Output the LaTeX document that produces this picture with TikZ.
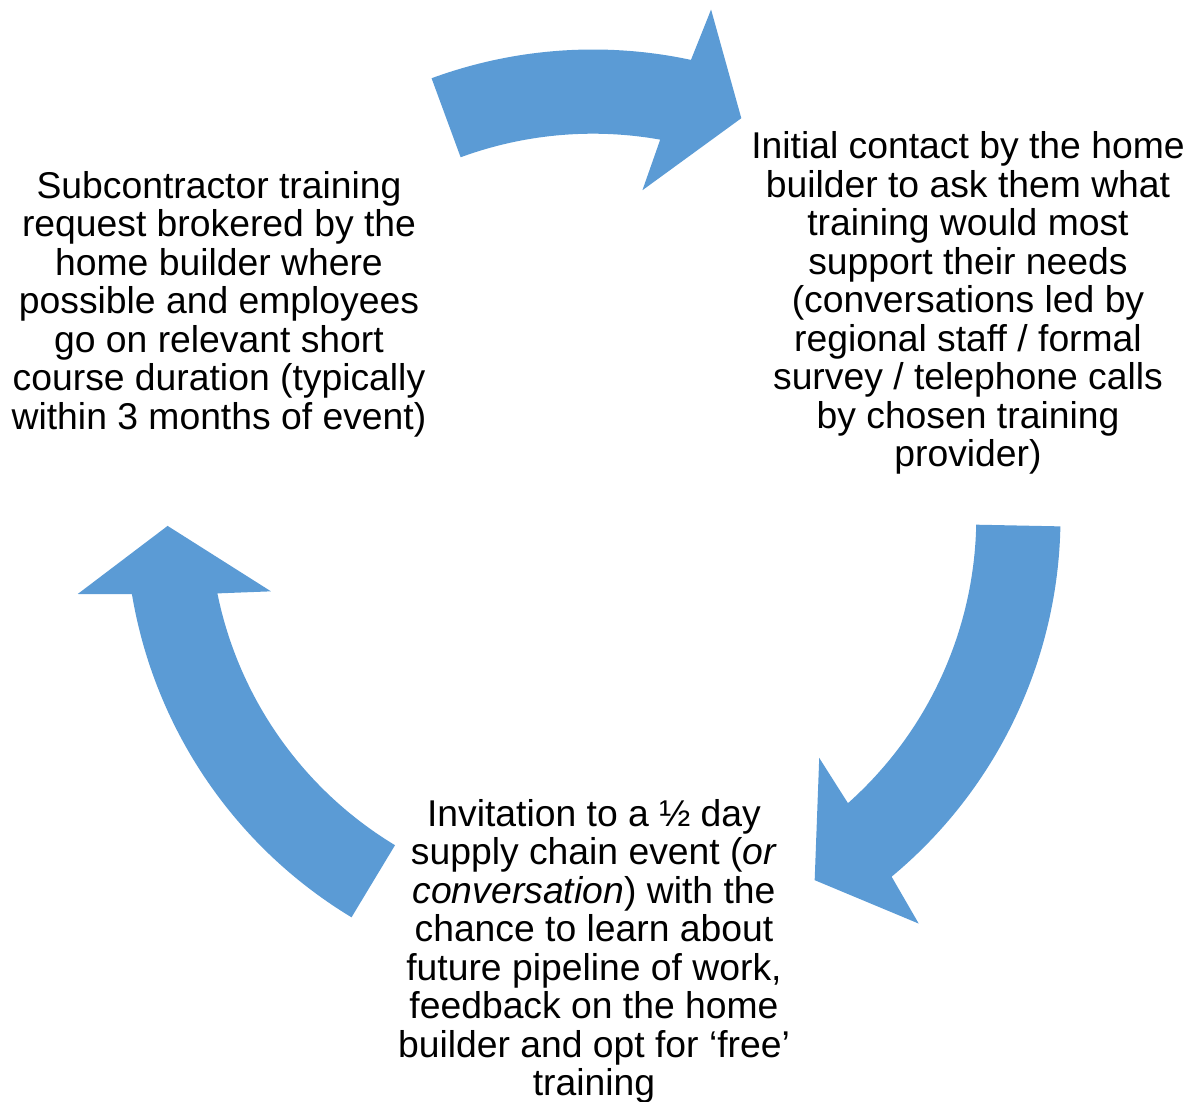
\documentclass[tikz,border=0pt]{standalone}
\usepackage{fontspec}
\setmainfont{Liberation Sans}
\usepackage{xcolor}
\definecolor{cycleblue}{HTML}{5B9BD5}

\begin{document}
\begin{tikzpicture}[x=1pt, y=1pt,
  steptext/.style={align=center, inner sep=0pt, anchor=base,
    font=\fontsize{37.3}{38.5}\selectfont},
  cyclearrow/.style={fill=cycleblue}]
\useasboundingbox (-593,-585) rectangle (604,517);

% Top arrow: left text -> right text
\fill[cyclearrow] (110.2:467.5) arc[start angle=110.2, end angle=77.9, radius=467.5]
  -- (76.9:521) -- (69.6:425.5) -- (81.4:330.5) -- (79.9:383.3)
  arc[start angle=79.9, end angle=110.2, radius=383.3] -- cycle;

% Right arrow: right text -> bottom text
\fill[cyclearrow] (-1.15:467.5) arc[start angle=-1.15, end angle=-50.3, radius=467.5]
  -- (-51.3:521) -- (-58.6:425.5) -- (-46.8:330.5) -- (-48.3:383.3)
  arc[start angle=-48.3, end angle=-1.15, radius=383.3] -- cycle;

% Left arrow: bottom text -> left text
\fill[cyclearrow] (238.9:467.5) arc[start angle=238.9, end angle=189.5, radius=467.5]
  -- (188.5:521) -- (181.2:425.5) -- (193.0:330.5) -- (191.5:383.3)
  arc[start angle=191.5, end angle=238.9, radius=383.3] -- cycle;

% Steps of the cycle (base anchor sits on the last line)
\node[steptext] (contact) at (375,50) {Initial contact by the home\\
  builder to ask them what\\ training would most\\ support their needs\\
  (conversations led by\\ regional staff / formal\\ survey / telephone calls\\
  by chosen training\\ provider)};
\node[steptext] (invitation) at (1,-578.5) {Invitation to a ½ day\\
  supply chain event (\textit{or}\\ \textit{conversation}) with the\\
  chance to learn about\\ future pipeline of work,\\ feedback on the home\\
  builder and opt for ‘free’\\ training};
\node[steptext] (request) at (-374,87.5) {Subcontractor training\\
  request brokered by the\\ home builder where\\ possible and employees\\
  go on relevant short\\ course duration (typically\\ within 3 months of event)};
\end{tikzpicture}
\end{document}
